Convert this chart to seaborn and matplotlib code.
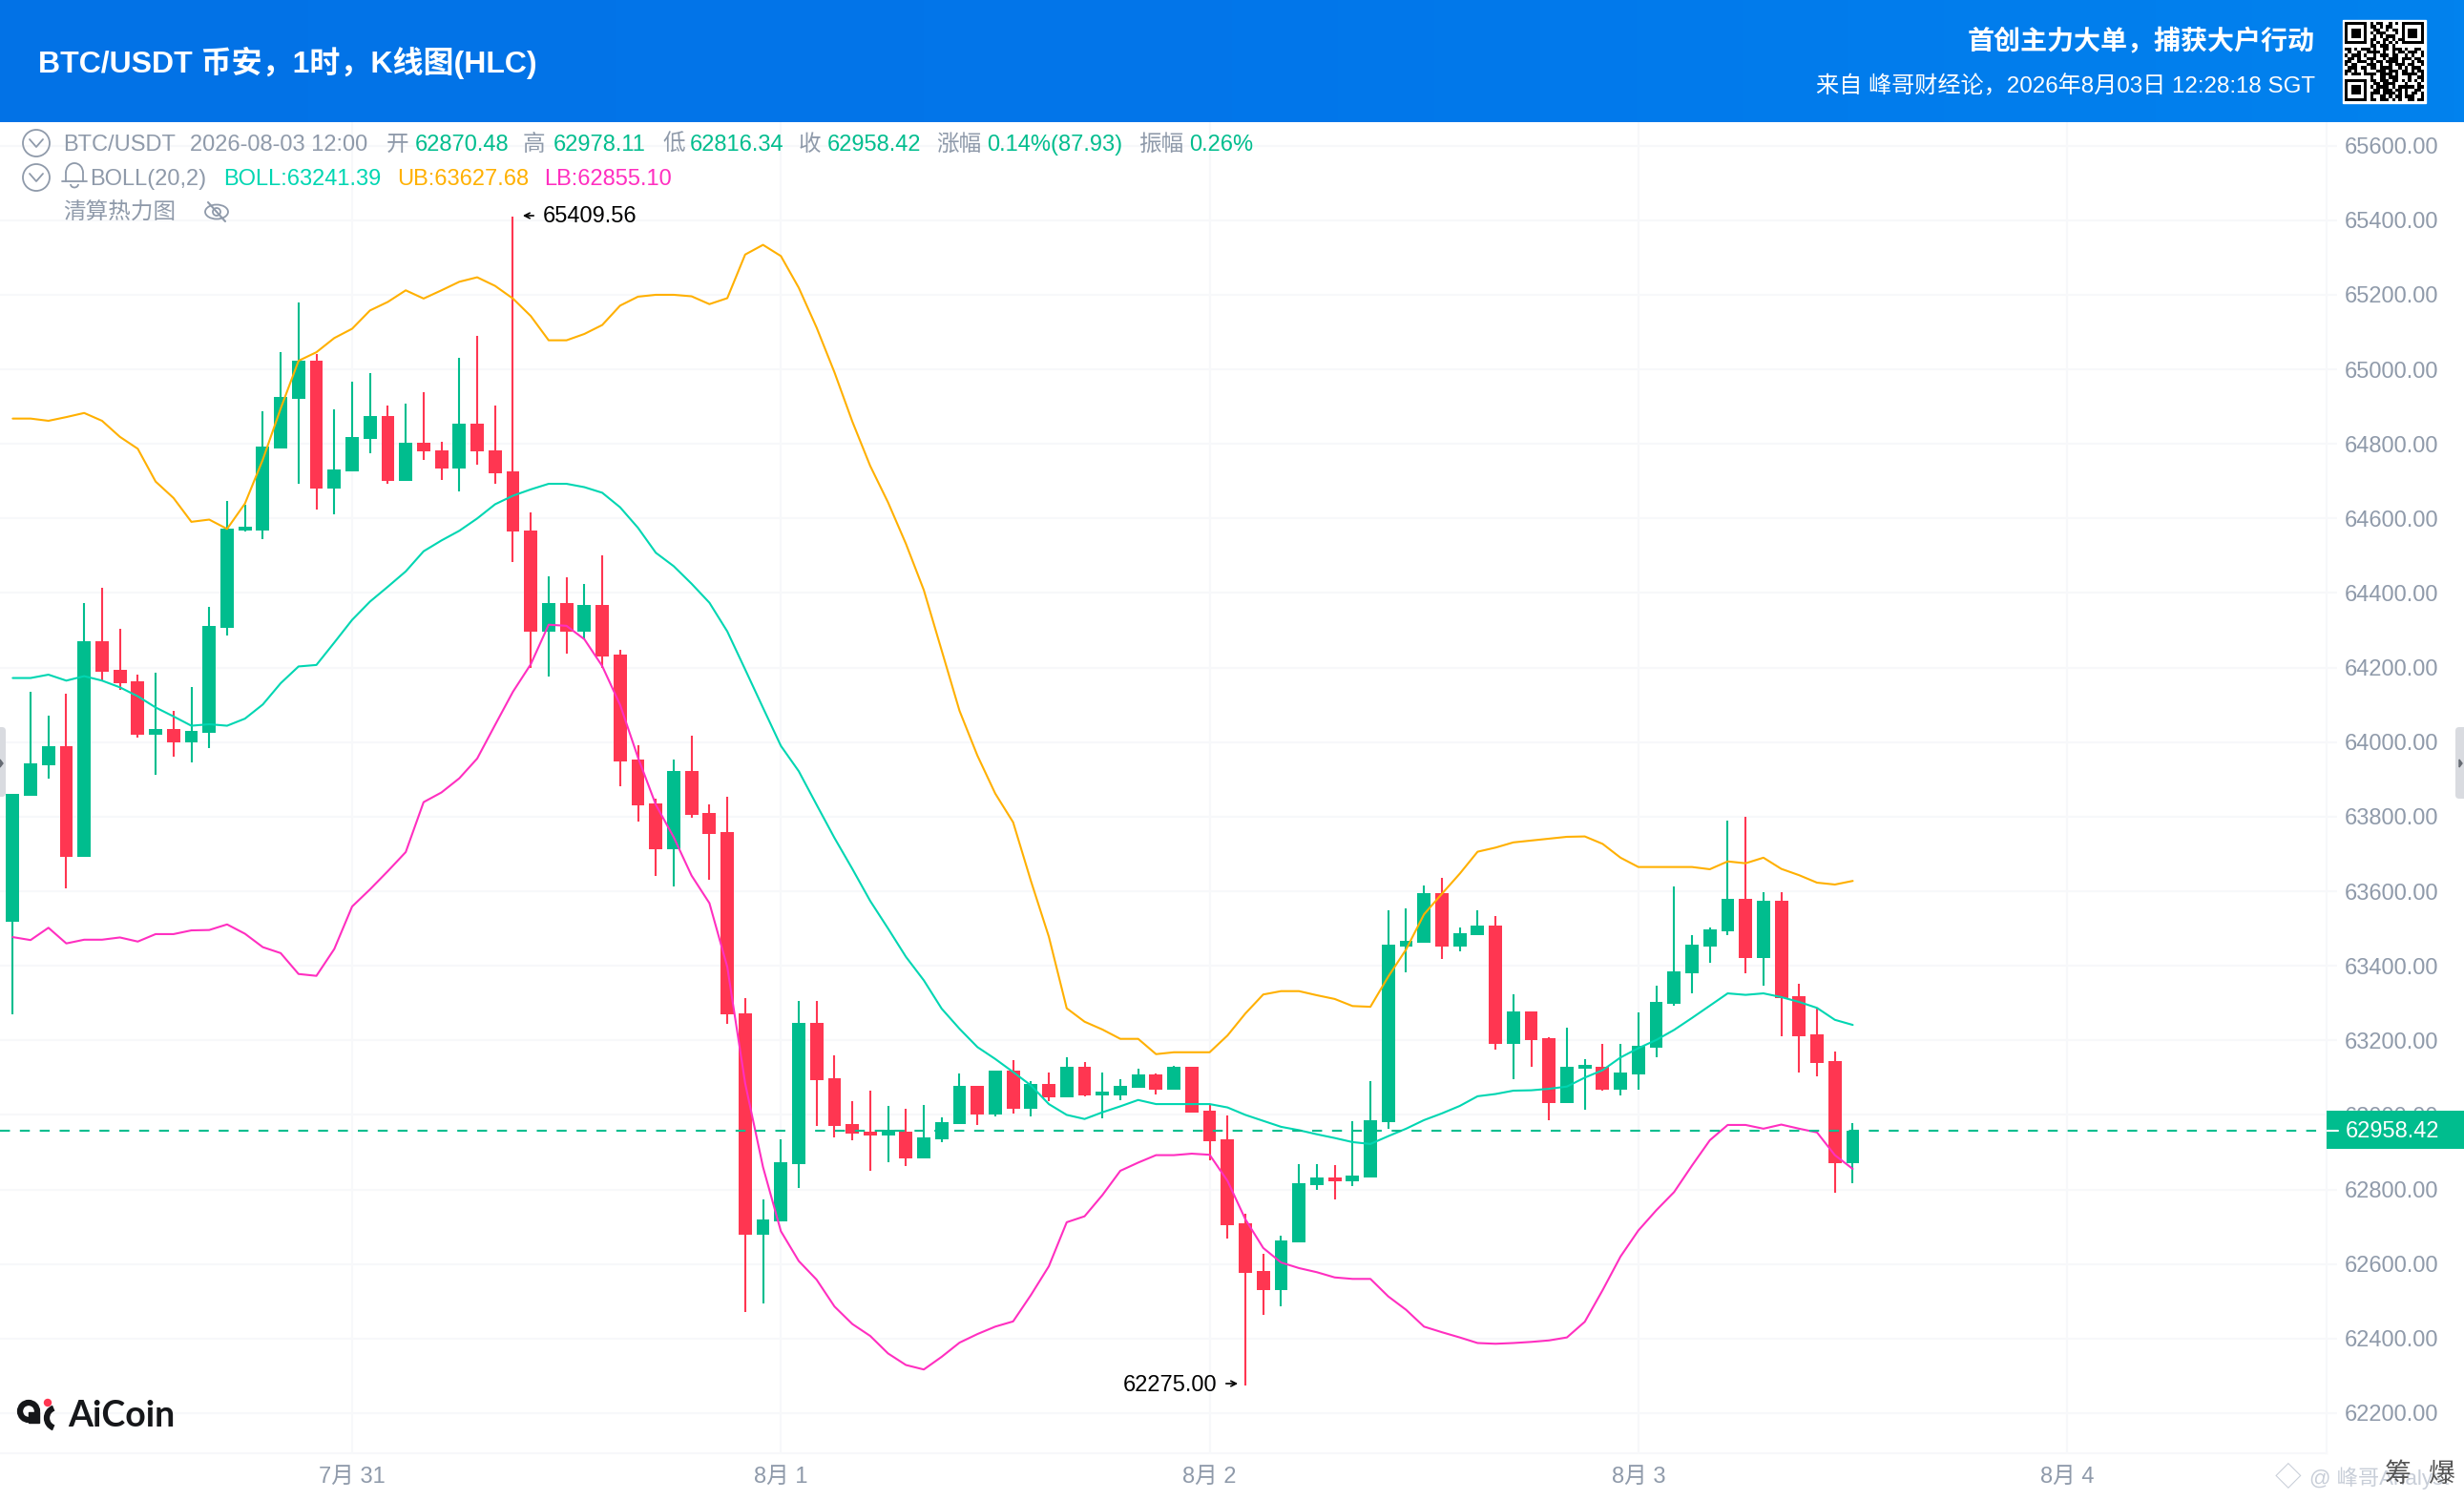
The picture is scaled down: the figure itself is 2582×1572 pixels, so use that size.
import numpy as np
import seaborn as sns
import matplotlib
matplotlib.use('Agg')
from matplotlib import pyplot as plt
from matplotlib.colors import LinearSegmentedColormap
from matplotlib.patches import Arc, Circle, Ellipse, FancyBboxPatch, Polygon, Rectangle

sns.set_theme(style='white')
plt.rcParams['font.family'] = ['Liberation Sans', 'Noto Sans CJK SC', 'DejaVu Sans']

# hours counted from 7月31 00:00
bar_hours = list(range(-19, 85))

opens = [63519, 63856, 63938, 63989, 63693, 64271, 64193, 64163, 64021, 64035, 64000, 64025, 64307,
         64568, 64568, 64789, 64921, 65023, 64681, 64727, 64814, 64875, 64701, 64803, 64783, 64733,
         64854, 64783, 64726, 64567, 64297, 64373, 64297, 64368, 64235, 63953, 63836, 63713, 63922,
         63810, 63759, 63272, 62679, 62714, 62869, 63246, 63098, 62975, 62955, 62945, 62955, 62884,
         62934, 62975, 63078, 63001, 63119, 63017, 63083, 63047, 63129, 63053, 63053, 63072, 63108,
         63068, 63129, 63011, 62934, 62709, 62581, 62531, 62658, 62812, 62832, 62823, 62833, 62981,
         63452, 63463, 63595, 63452, 63483, 63508, 63191, 63277, 63206, 63032, 63125, 63129, 63068,
         63109, 63181, 63299, 63381, 63452, 63493, 63579, 63422, 63574, 63318, 63216, 63144, 62870.48]
highs = [63860, 64135, 64070, 64129, 64373, 64415, 64304, 64182, 64187, 64084, 64147, 64363, 64646,
         64636, 64888, 65047, 65180, 65041, 64892, 64966, 64990, 64902, 64907, 64939, 64805, 65032,
         65089, 64904, 65409.56, 64616, 64444, 64441, 64424, 64500, 64247, 63991, 63849, 63954, 64016,
         63833, 63854, 63313, 62773, 62935, 63305, 63305, 63161, 63036, 63066, 63023, 63017, 63027,
         62993, 63110, 63078, 63119, 63146, 63090, 63114, 63154, 63141, 63114, 63096, 63123, 63111,
         63132, 63129, 63027, 62999, 62736, 62627, 62677, 62868, 62869, 62865, 62983, 63091, 63550,
         63554, 63615, 63637, 63502, 63548, 63533, 63323, 63277, 63209, 63235, 63149, 63190, 63190,
         63276, 63346, 63613, 63482, 63504, 63789, 63800, 63598, 63598, 63353, 63286, 63171, 62978.11]
lows = [63271, 63856, 63902, 63608, 63693, 64166, 64139, 64013, 63912, 63961, 63946, 63984, 64287,
        64566, 64545, 64789, 64693, 64623, 64612, 64727, 64775, 64692, 64701, 64756, 64704, 64672,
        64744, 64693, 64484, 64198, 64175, 64238, 64276, 64200, 63882, 63788, 63641, 63614, 63796,
        63631, 63245, 62471, 62494, 62714, 62805, 62971, 62939, 62932, 62850, 62874, 62863, 62884,
        62927, 62975, 62974, 62997, 63004, 62996, 63037, 63047, 63050, 62990, 63040, 63072, 63054,
        63068, 63007, 62877, 62669, 62275, 62464, 62486, 62658, 62798, 62773, 62810, 62833, 62962,
        63383, 63463, 63418, 63440, 63483, 63176, 63097, 63129, 62986, 63032, 63014, 63065, 63053,
        63068, 63155, 63294, 63326, 63408, 63483, 63381, 63347, 63212, 63114, 63103, 62790, 62816.34]
closes = [63860, 63943, 63989, 63693, 64271, 64190, 64159, 64021, 64035, 64000, 64030, 64311, 64572,
          64577, 64792, 64926, 65023, 64681, 64732, 64819, 64875, 64701, 64803, 64779, 64733, 64854,
          64779, 64721, 64564, 64297, 64373, 64297, 64368, 64230, 63949, 63830, 63713, 63922, 63805,
          63754, 63269, 62679, 62719, 62873, 63247, 63094, 62971, 62950, 62945, 62960, 62884, 62939,
          62981, 63078, 63001, 63119, 63017, 63083, 63047, 63129, 63053, 63062, 63078, 63108, 63068,
          63129, 63007, 62930, 62705, 62577, 62531, 62663, 62816, 62832, 62823, 62837, 62986, 63457,
          63467, 63595, 63452, 63487, 63508, 63191, 63277, 63201, 63032, 63129, 63134, 63068, 63114,
          63185, 63303, 63385, 63457, 63498, 63579, 63422, 63574, 63314, 63212, 63140, 62870, 62958.42]

boll_ub = [64868, 64868, 64862, 64872, 64883, 64862, 64819, 64787, 64699, 64655, 64591, 64597, 64572,
           64640, 64758, 64895, 65023, 65046, 65084, 65109, 65158, 65181, 65212, 65190, 65212, 65235,
           65247, 65224, 65190, 65143, 65078, 65078, 65095, 65119, 65171, 65195, 65200, 65200, 65196,
           65175, 65191, 65308, 65334, 65304, 65219, 65112, 64992, 64860, 64741, 64643, 64532, 64408,
           64246, 64084, 63964, 63862, 63785, 63627, 63478, 63286, 63250, 63229, 63204, 63204, 63163,
           63168, 63168, 63168, 63213, 63272, 63323, 63332, 63332, 63321, 63311, 63292, 63290, 63371,
           63444, 63538, 63593, 63647, 63706, 63717, 63731, 63736, 63741, 63746, 63747, 63727, 63690,
           63665, 63665, 63665, 63665, 63659, 63680, 63675, 63690, 63660, 63643, 63623, 63618, 63627.68]
boll_mid = [64172, 64172, 64181, 64165, 64177, 64165, 64147, 64123, 64093, 64069, 64044, 64048, 64044,
            64063, 64101, 64158, 64203, 64207, 64267, 64328, 64377, 64417, 64458, 64512, 64541, 64567,
            64600, 64638, 64661, 64678, 64693, 64693, 64684, 64669, 64630, 64575, 64508, 64472, 64425,
            64374, 64297, 64195, 64092, 63990, 63922, 63832, 63743, 63660, 63574, 63500, 63424, 63361,
            63285, 63231, 63182, 63150, 63115, 63079, 63029, 63000, 62989, 63007, 63023, 63040, 63029,
            63029, 63029, 63029, 63020, 63000, 62984, 62968, 62959, 62948, 62938, 62927, 62922, 62943,
            62963, 62986, 63004, 63024, 63050, 63056, 63065, 63066, 63070, 63076, 63100, 63120, 63154,
            63179, 63201, 63228, 63260, 63293, 63326, 63322, 63326, 63316, 63303, 63287, 63255, 63241.39]
boll_lb = [63477, 63469, 63502, 63460, 63470, 63470, 63476, 63465, 63485, 63485, 63495, 63496, 63511,
           63486, 63450, 63434, 63378, 63373, 63445, 63559, 63605, 63654, 63705, 63839, 63865, 63903,
           63956, 64046, 64135, 64209, 64315, 64312, 64276, 64204, 64100, 63959, 63832, 63745, 63642,
           63568, 63397, 63085, 62860, 62688, 62608, 62558, 62486, 62439, 62407, 62360, 62329, 62317,
           62351, 62389, 62412, 62432, 62446, 62517, 62594, 62712, 62728, 62785, 62850, 62872, 62892,
           62892, 62896, 62893, 62823, 62720, 62643, 62604, 62589, 62578, 62564, 62560, 62560, 62513,
           62477, 62432, 62417, 62403, 62388, 62386, 62388, 62391, 62395, 62403, 62445, 62530, 62620,
           62690, 62744, 62793, 62864, 62932, 62973, 62973, 62963, 62974, 62963, 62953, 62892, 62855.10]

y_ticks = list(range(62200, 65601, 200))
x_tick_hours = [0, 24, 48, 72, 96]
x_tick_labels = ['7月 31', '8月 1', '8月 2', '8月 3', '8月 4']
last_price = 62958.42

qr_rows = ['#######.#.##..#.#.#######', '#.....#.##.#.##...#.....#', '#.###.#..##..#.##.#.###.#',
           '#.###.#.#.###...#.#.###.#', '#.###.#..#.#.###..#.###.#', '#.....#.##..##.#.##.....#',
           '#######.#.#.#.#.#.#######', '........##.###.#.........', '##.#.###.#..##.###.#..##.',
           '.#..#..####.#..#.##.###.#', '#.###.#..#.###.##..#.#..#', '.##.#..###..#.###.###.##.',
           '##..###.#.##.####.#..#.##', '#.##...###.#..#.###.##..#', '.###.##.##.####..#.#.###.',
           '##.#..#...###.###.##.#.##', '#.###.####.####.#.#####.#', '........#..##.###...#..##',
           '#######.##.###.##.#.#.#.#', '#.....#..##.####...#...#.', '#.###.#.#.####.#.#####.##',
           '#.###.#..##.###.##.#..##.', '#.###.#.###.####.#.#.##.#', '#.....#.#..##.#.##.###..#',
           '#######.##.###.#.#..##.##']

up_color = '#00bd8e'
down_color = '#ff3651'
mid_color = '#00d6b2'
ub_color = '#ffb000'
lb_color = '#ff2fc0'
gray = '#8f9aaa'
grid_color = '#f7f8fa'

W, H = 2582, 1572
fig = plt.figure(figsize=(W / 100, H / 100), dpi=100, facecolor='white')
ax = fig.add_axes([0, 1 - 1523 / H, 2438 / W, (1523 - 128) / H])

is_up = np.array(closes) >= np.array(opens)
colors = [up_color if u else down_color for u in is_up]
ax.vlines(bar_hours, lows, highs, colors=colors, linewidth=1.5, zorder=2)
body_low = np.minimum(opens, closes)
body_high = np.maximum(opens, closes)
ax.bar(bar_hours, body_high - body_low, bottom=body_low, width=0.74, color=colors, linewidth=0, zorder=2)

sns.lineplot(x=bar_hours, y=boll_ub, color=ub_color, linewidth=1.5, estimator=None, ax=ax, zorder=3)
sns.lineplot(x=bar_hours, y=boll_mid, color=mid_color, linewidth=1.5, estimator=None, ax=ax, zorder=3)
sns.lineplot(x=bar_hours, y=boll_lb, color=lb_color, linewidth=1.5, estimator=None, ax=ax, zorder=3)

ax.axhline(last_price, color=up_color, linewidth=1.5, dashes=(5, 5), zorder=4)

ax.set_xlim(-369 / 18.72, (2438 - 369) / 18.72)
ax.set_ylim(65600 - (1523 - 152.7) * 2.5598, 65600 + (152.7 - 128) * 2.5598)
ax.yaxis.tick_right()
ax.set_yticks(y_ticks)
ax.set_yticklabels(['%.2f' % v for v in y_ticks])
ax.set_xticks(x_tick_hours)
ax.set_xticklabels(x_tick_labels)
ax.tick_params(axis='y', length=8, width=1.5, color=grid_color, pad=5.5, labelsize=17, labelcolor=gray, right=True)
ax.tick_params(axis='x', length=0, pad=10, labelsize=17, labelcolor=gray, bottom=False)
ax.grid(True, color=grid_color, linewidth=1.5, zorder=0)
ax.set_axisbelow(True)
for side in ['left', 'top']:
    ax.spines[side].set_visible(False)
for side in ['right', 'bottom']:
    ax.spines[side].set_color(grid_color)
    ax.spines[side].set_linewidth(1.5)

ax.annotate('65409.56', xy=(9, 65409.56), xytext=(22.5, 0), textcoords='offset points',
            ha='left', va='center', fontsize=17, color='black', zorder=6)
ax.annotate('62275.00', xy=(50, 62275), xytext=(-21.5, 0), textcoords='offset points',
            ha='right', va='center', fontsize=17, color='black', zorder=6)

# header, info rows, logo and the rest are placed in pixels
ov = fig.add_axes([0, 0, 1, 1], zorder=5)
ov.patch.set_alpha(0)
ov.axis('off')

header_cmap = LinearSegmentedColormap.from_list('hdr', ['#0272e6', '#0276ea', '#0182ee'])
ov.imshow(np.linspace(0, 1, 256).reshape(1, -1), cmap=header_cmap, extent=(0, W, 128, 0), aspect='auto', zorder=1)

ov.text(40, 66, 'BTC/USDT 币安，1时，K线图(HLC)', color='white', fontsize=23, fontweight='bold', va='center', ha='left', zorder=2)
ov.text(2426, 44, '首创主力大单，捕获大户行动', color='white', fontsize=20.2, fontweight='bold', va='center', ha='right', zorder=2)
ov.text(2426, 90, '来自 峰哥财经论，2026年8月03日 12:28:18 SGT', color='white', fontsize=17.4, va='center', ha='right', zorder=2)

qr = np.array([[0 if c == '#' else 1 for c in row] for row in qr_rows])
ov.add_patch(Rectangle((2455, 21), 87, 87, color='white', zorder=2))
ov.imshow(qr, cmap='gray', extent=(2457, 2540, 106, 23), aspect='auto', interpolation='nearest', zorder=3)

row1 = [(66, 'BTC/USDT', gray), (199, '2026-08-03 12:00', gray), (405, '开', gray), (435, '62870.48', up_color),
        (548, '高', gray), (580, '62978.11', up_color), (694, '低', gray), (723, '62816.34', up_color),
        (837, '收', gray), (867, '62958.42', up_color), (981, '涨幅', gray), (1034, '0.14%(87.93)', up_color),
        (1193, '振幅', gray), (1246, '0.26%', up_color)]
for x, s, c in row1:
    ov.text(x, 152, s, color=c, fontsize=17, va='center', ha='left')
row2 = [(94, 'BOLL(20,2)', gray), (234, 'BOLL:63241.39', mid_color), (416, 'UB:63627.68', ub_color), (570, 'LB:62855.10', lb_color)]
for x, s, c in row2:
    ov.text(x, 188, s, color=c, fontsize=17, va='center', ha='left')
ov.text(66, 224, '清算热力图', color=gray, fontsize=17, va='center', ha='left')

# arrows next to the high and low marks
ov.annotate('', xy=(545, 226), xytext=(562, 226), arrowprops=dict(arrowstyle='->', color='black', linewidth=1.2, mutation_scale=10))
ov.annotate('', xy=(1300, 1450), xytext=(1282, 1450), arrowprops=dict(arrowstyle='->', color='black', linewidth=1.2, mutation_scale=10))

# collapse icons
for cy in [150, 186]:
    ov.add_patch(Circle((38, cy), 14, fill=False, edgecolor=gray, linewidth=1.3))
    ov.plot([31, 38, 45], [cy - 4, cy + 4, cy - 4], color=gray, linewidth=1.3)
# bell
ov.add_patch(Arc((78, 181), 18, 20, theta1=180, theta2=360, edgecolor=gray, linewidth=1.3))
ov.plot([69, 69], [181, 190], color=gray, linewidth=1.3)
ov.plot([87, 87], [181, 190], color=gray, linewidth=1.3)
ov.plot([65, 91], [190, 190], color=gray, linewidth=1.3)
ov.add_patch(Arc((78, 193), 8, 7, theta1=0, theta2=180, edgecolor=gray, linewidth=1.3))
# eye
ov.add_patch(Ellipse((227, 222), 24, 15, fill=False, edgecolor=gray, linewidth=1.3))
ov.add_patch(Circle((227, 222), 4, fill=False, edgecolor=gray, linewidth=1.3))
ov.plot([218, 236], [212, 232], color=gray, linewidth=1.5)

# side handles
ov.add_patch(FancyBboxPatch((-6, 762), 12, 73, boxstyle='round,pad=0,rounding_size=4', facecolor='#d9dbe0', edgecolor='none'))
ov.add_patch(Polygon([[0, 796], [3, 800], [0, 804]], color='#666b73'))
ov.add_patch(FancyBboxPatch((2573, 762), 14, 75, boxstyle='round,pad=0,rounding_size=4', facecolor='#d9dbe0', edgecolor='none'))
ov.add_patch(Polygon([[2577, 796], [2580, 800], [2577, 804]], color='#666b73'))

# last price tag
ov.add_patch(Rectangle((2438, 1164), 144, 40, color=up_color, linewidth=0, zorder=4))
ov.plot([2438, 2450], [1185, 1185], color='white', linewidth=1.5, zorder=5)
ov.text(2458, 1186, '62958.42', color='white', fontsize=17, va='center', ha='left', zorder=5)

# logo
ov.add_patch(Circle((30, 1479), 9, fill=False, edgecolor='#16171a', linewidth=4.5))
ov.add_patch(Rectangle((30, 1480), 11, 11, color='#16171a'))
ov.add_patch(Arc((60, 1486), 22, 22, theta1=110, theta2=250, edgecolor='#16171a', linewidth=4.5))
ov.add_patch(Circle((50, 1470), 3.5, color='#ff3651'))
ov.text(71, 1484, 'AiCoin', color='#16171a', fontsize=27, fontweight='bold', family='Lato', va='center', ha='left')

# watermark and stray glyphs
ov.text(2398, 1549, '◇', color='#c8ced8', fontsize=20, va='center', ha='center')
ov.text(2420, 1549, '@ 峰哥Analyst', color='#c8ced8', fontsize=16, va='center', ha='left')
ov.text(2513, 1546, '筹', color='#555555', fontsize=20, va='center', ha='center')
ov.text(2558, 1546, '爆', color='#555555', fontsize=20, va='center', ha='center')

ov.set_xlim(0, W)
ov.set_ylim(H, 0)

fig.savefig('out.png', dpi=100)
